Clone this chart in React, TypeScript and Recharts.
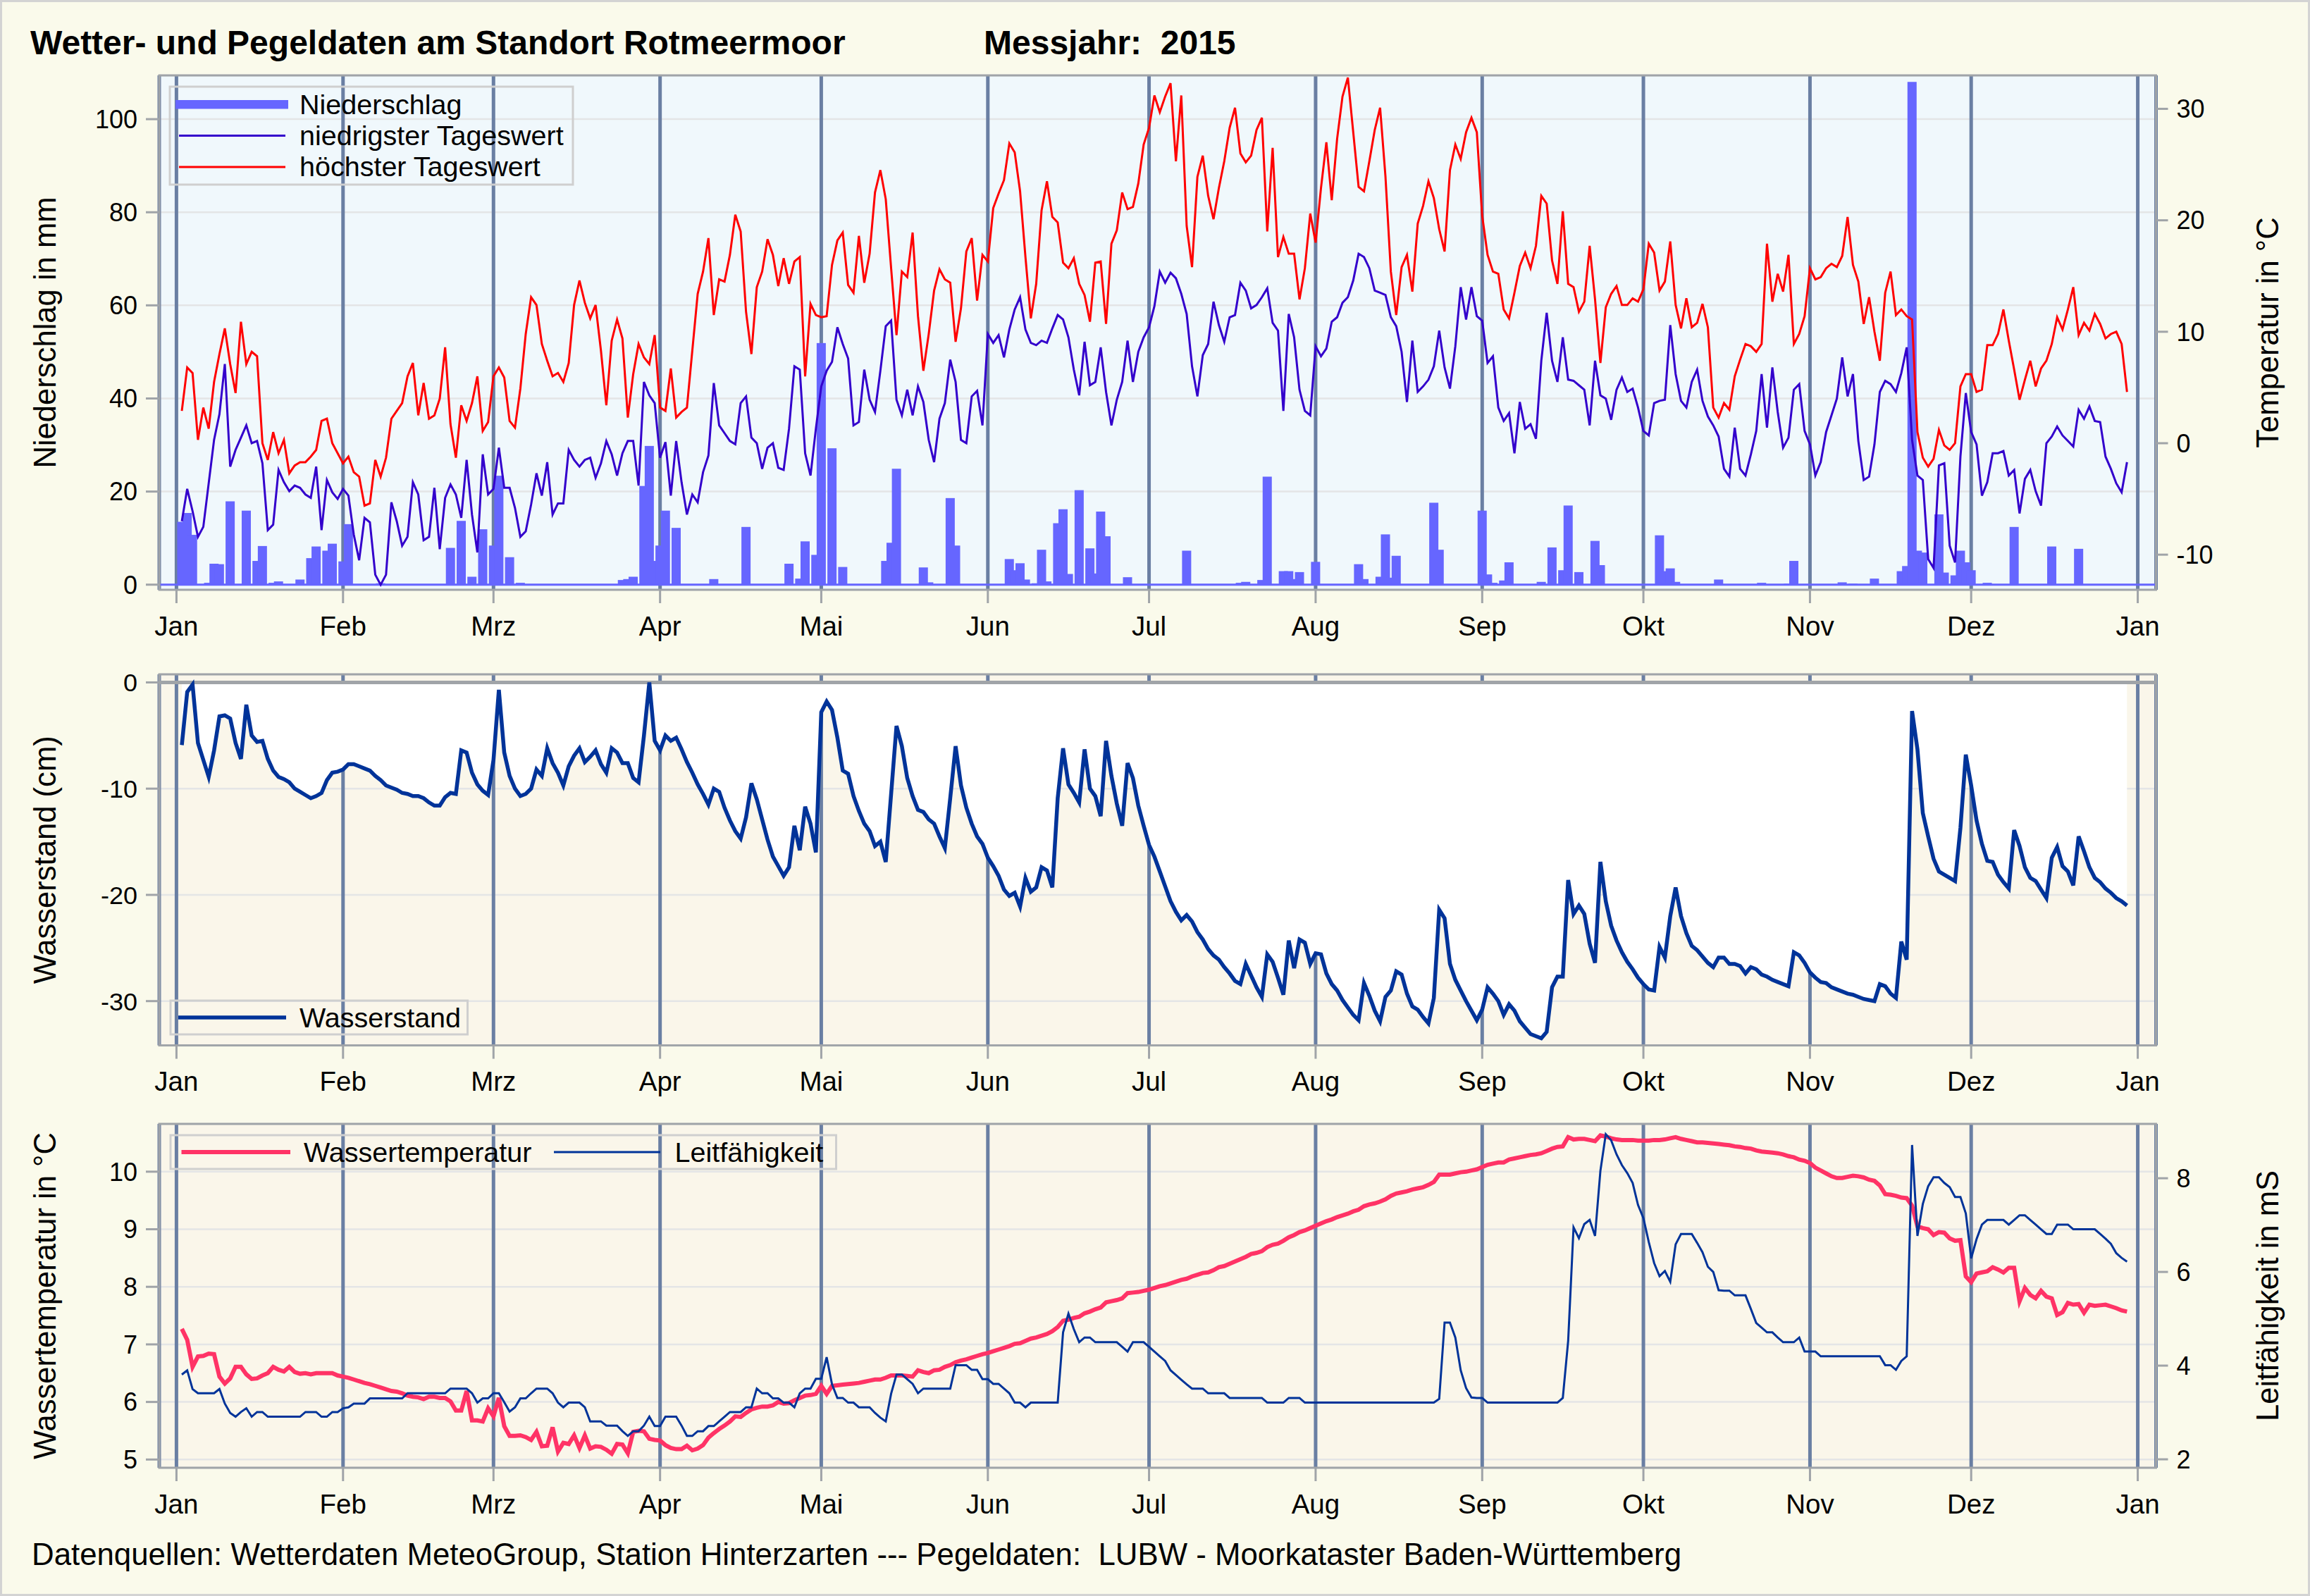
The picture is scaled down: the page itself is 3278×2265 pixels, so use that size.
import React from 'react';
import {
  ComposedChart,
  Line,
  Bar,
  Area,
  XAxis,
  YAxis,
  CartesianGrid,
  ReferenceLine,
} from 'recharts';

// ---------------------------------------------------------------------------
// Data (day 1 .. 363 of 2015)
// ---------------------------------------------------------------------------

const monthTicks = [0, 31, 59, 90, 120, 151, 181, 212, 243, 273, 304, 334, 365];
const monthLabels = ['Jan', 'Feb', 'Mrz', 'Apr', 'Mai', 'Jun', 'Jul', 'Aug', 'Sep', 'Okt', 'Nov', 'Dez', 'Jan'];

// höchster Tageswert (°C)
const tempMax = [
  2.9, 6.8, 6.3, 0.3, 3.2, 1.3, 5.5, 8.0, 10.3, 7.1,
  4.5, 10.9, 7.1, 8.2, 7.8, 0.0, -1.5, 1.0, -0.9, 0.3,
  -2.7, -2.0, -1.7, -1.7, -1.2, -0.6, 2.0, 2.2, 0.0, -0.9,
  -1.8, -1.2, -2.6, -3.0, -5.6, -5.4, -1.5, -3.0, -1.3, 2.2,
  2.9, 3.6, 6.0, 7.2, 2.5, 5.4, 2.2, 2.5, 4.0, 8.6,
  1.7, -1.3, 3.4, 2.0, 3.6, 6.0, 1.1, 1.9, 6.0, 6.8,
  5.9, 2.0, 1.4, 4.9, 9.8, 13.1, 12.4, 8.9, 7.4, 6.0,
  6.3, 5.5, 7.2, 12.4, 14.6, 12.6, 11.2, 12.4, 8.3, 3.4,
  9.2, 11.1, 9.4, 2.3, 6.2, 8.9, 7.7, 7.1, 9.7, 3.2,
  2.9, 6.7, 2.3, 2.8, 3.2, 8.3, 13.4, 15.4, 18.4, 11.5,
  14.7, 14.5, 16.9, 20.5, 19.0, 11.8, 8.0, 14.0, 15.4, 18.3,
  16.9, 14.1, 16.6, 14.3, 16.3, 16.7, 6.0, 12.5, 11.5, 11.3,
  11.4, 16.0, 18.2, 18.9, 14.2, 13.5, 18.6, 14.4, 17.0, 22.5,
  24.5, 21.9, 15.7, 9.7, 15.4, 14.9, 18.9, 11.4, 6.5, 9.8,
  13.7, 15.6, 14.7, 14.4, 9.1, 12.1, 17.2, 18.4, 12.8, 16.9,
  16.3, 21.1, 22.4, 23.6, 26.9, 26.1, 22.6, 16.7, 11.2, 14.3,
  20.9, 23.5, 20.3, 19.8, 16.2, 15.7, 16.6, 14.3, 13.3, 10.9,
  16.2, 16.3, 10.7, 17.9, 19.1, 22.5, 21.0, 21.2, 23.3, 26.8,
  28.3, 31.2, 29.7, 31.1, 32.3, 25.3, 31.2, 19.5, 15.8, 23.9,
  25.8, 22.2, 20.1, 22.9, 25.3, 28.3, 30.1, 26.0, 25.2, 25.8,
  28.1, 29.2, 19.0, 26.5, 16.7, 18.5, 17.0, 17.0, 12.9, 15.7,
  20.6, 18.0, 22.9, 27.0, 21.8, 27.3, 31.1, 32.8, 27.9, 23.0,
  22.6, 25.3, 28.1, 30.1, 23.9, 15.4, 11.5, 15.8, 16.9, 13.6,
  19.7, 21.3, 23.5, 22.0, 19.2, 17.2, 24.5, 26.8, 25.5, 27.9,
  29.2, 27.9, 20.4, 16.9, 15.4, 15.2, 12.0, 11.2, 13.5, 15.9,
  17.1, 15.7, 17.7, 22.2, 21.5, 16.4, 14.3, 20.8, 14.3, 14.0,
  11.8, 12.7, 17.7, 12.9, 7.2, 12.2, 13.4, 14.1, 12.4, 12.4,
  13.0, 12.7, 13.8, 17.9, 17.1, 13.7, 14.5, 18.1, 12.4, 10.3,
  13.0, 10.4, 10.8, 12.5, 10.4, 3.2, 2.3, 3.6, 3.0, 6.0,
  7.5, 8.9, 8.7, 8.2, 8.9, 17.9, 12.7, 15.2, 13.6, 16.9,
  8.9, 9.8, 11.4, 15.7, 14.7, 14.9, 15.7, 16.1, 15.8, 16.8,
  20.3, 16.0, 14.5, 10.7, 13.1, 10.0, 7.4, 13.5, 15.4, 11.5,
  12.0, 11.4, 11.1, 1.0, -1.3, -2.1, -1.4, 1.2, -0.2, -0.6,
  0.0, 5.1, 6.2, 6.2, 4.6, 4.8, 8.8, 8.8, 9.8, 12.0,
  9.2, 6.6, 3.9, 5.7, 7.4, 5.1, 6.7, 7.4, 8.9, 11.3,
  10.2, 12.0, 14.0, 9.7, 10.8, 10.1, 11.6, 10.7, 9.4, 9.8,
  10.0, 8.9, 4.6,
];

// niedrigster Tageswert (°C)
const tempMin = [
  -7.0, -4.1, -6.1, -8.4, -7.5, -3.6, 0.3, 2.6, 7.1, -2.1,
  -0.6, 0.5, 1.6, 0.0, 0.2, -1.8, -7.8, -7.3, -2.4, -3.5,
  -4.3, -3.8, -4.0, -4.6, -4.9, -2.1, -7.8, -3.3, -4.4, -5.0,
  -4.1, -4.7, -8.2, -10.5, -6.7, -7.1, -11.8, -12.7, -11.8, -5.3,
  -7.0, -9.2, -8.4, -3.5, -4.6, -8.7, -8.4, -4.0, -9.5, -4.9,
  -3.7, -4.6, -6.7, -1.5, -6.4, -9.8, -1.0, -4.6, -4.1, -0.4,
  -4.0, -4.0, -5.8, -8.4, -7.9, -5.5, -2.7, -4.7, -1.7, -6.4,
  -5.4, -5.4, -0.6, -1.5, -2.1, -1.5, -1.3, -3.1, -1.8, 0.2,
  -1.0, -2.9, -0.9, 0.2, 0.2, -3.8, 5.5, 4.3, 3.6, -1.3,
  0.1, -4.7, 0.2, -3.5, -6.4, -4.6, -5.3, -2.6, -1.1, 5.4,
  1.6, 0.9, 0.2, -0.1, 3.6, 4.2, 0.5, 0.0, -2.3, -0.4,
  0.0, -2.2, -2.4, 1.3, 6.9, 6.6, -0.9, -2.9, 1.3, 5.1,
  6.5, 7.3, 10.4, 8.9, 7.6, 1.6, 1.9, 6.6, 3.9, 2.8,
  6.5, 10.5, 11.0, 3.9, 2.5, 4.8, 2.5, 5.1, 3.7, 0.3,
  -1.7, 2.2, 3.6, 7.5, 5.5, 0.3, 0.0, 4.2, 4.7, 1.6,
  9.8, 9.0, 9.7, 7.7, 10.2, 12.0, 13.1, 10.2, 9.0, 8.8,
  9.2, 9.0, 10.3, 11.5, 11.1, 9.5, 6.6, 4.3, 9.1, 5.2,
  5.5, 8.6, 4.6, 1.6, 3.9, 5.5, 9.2, 5.5, 8.2, 9.5,
  10.4, 12.3, 15.4, 14.4, 15.3, 14.8, 13.4, 11.6, 6.9, 4.2,
  7.9, 8.9, 12.7, 10.6, 9.1, 11.3, 11.5, 14.4, 13.7, 12.1,
  12.4, 13.1, 13.9, 10.8, 10.1, 2.9, 11.6, 9.5, 4.8, 2.9,
  2.5, 8.7, 7.8, 8.5, 10.9, 11.3, 12.6, 13.1, 14.6, 17.0,
  16.7, 15.7, 13.7, 13.5, 13.3, 11.3, 10.5, 8.2, 3.7, 9.2,
  4.6, 5.1, 5.7, 6.9, 10.1, 6.8, 4.9, 8.7, 14.0, 11.1,
  14.0, 11.4, 11.0, 7.2, 7.8, 3.2, 2.0, 2.7, -0.9, 3.7,
  1.3, 1.7, 0.4, 7.4, 11.7, 7.4, 5.5, 9.5, 5.7, 5.6,
  5.2, 4.8, 1.6, 7.4, 4.3, 4.0, 2.1, 4.8, 5.9, 4.6,
  4.9, 3.2, 1.1, 0.7, 3.6, 3.8, 3.9, 10.6, 6.2, 3.8,
  3.2, 5.5, 6.6, 3.8, 2.4, 1.6, 0.6, -2.3, -3.0, 1.4,
  -2.3, -2.9, -1.0, 1.1, 6.2, 1.4, 6.8, 2.8, -0.4, 0.5,
  4.8, 5.3, 1.1, -0.1, -2.9, -1.7, 1.0, 2.5, 4.0, 7.7,
  4.2, 6.2, 0.2, -3.3, -3.0, -0.1, 4.6, 5.6, 5.3, 4.6,
  6.3, 8.6, 0.3, -2.9, -3.3, -10.4, -11.2, -2.0, -1.8, -9.2,
  -10.7, -1.2, 4.5, 1.0, -0.1, -4.7, -3.5, -0.9, -0.9, -0.7,
  -2.9, -2.4, -6.3, -3.2, -2.4, -4.3, -5.6, 0.0, 0.6, 1.5,
  0.7, 0.2, -0.3, 3.0, 2.2, 3.3, 2.0, 1.9, -1.2, -2.3,
  -3.6, -4.4, -1.7,
];

// Niederschlag: days with rain and the amount in mm
const rainDays = [
  1, 2, 3, 6, 7, 8, 10, 13, 15, 16, 18, 19, 23, 25, 26, 28, 29, 31, 32, 38,
  51, 53, 55, 57, 59, 60, 62, 64, 83, 84, 85, 87, 88, 89, 90, 91, 93, 100, 106, 114,
  116, 117, 119, 120, 122, 124, 132, 133, 134, 139, 140, 144, 145, 155, 156, 157, 158, 160, 161, 162,
  164, 165, 166, 168, 170, 171, 172, 173, 177, 188, 198, 199, 202, 203, 206, 207, 208, 209, 212, 220,
  221, 224, 225, 226, 227, 234, 235, 243, 244, 245, 247, 248, 254, 256, 258, 259, 261, 264, 265, 276,
  277, 278, 279, 287, 295, 300, 301, 310, 312, 316, 321, 322, 323, 324, 325, 328, 329, 331, 332, 333,
  334, 337, 342, 349, 354,
];
const rainMm = [
  13.5, 15.4, 10.7, 0.4, 4.5, 4.4, 17.9, 15.9, 5.1, 8.3, 0.4, 0.7, 1.1, 5.7, 8.2, 7.3, 8.8, 5.0, 13.0, 0.3,
  7.9, 13.7, 1.7, 11.9, 8.4, 23.4, 5.9, 0.4, 1.0, 1.2, 1.7, 21.2, 29.8, 5.1, 8.4, 15.9, 12.2, 1.2, 12.4, 4.5,
  1.3, 9.3, 6.4, 51.9, 29.3, 3.8, 5.1, 9.0, 24.9, 3.7, 0.5, 18.6, 8.4, 5.5, 3.1, 4.6, 1.1, 0.3, 7.5, 0.7,
  13.2, 16.2, 2.3, 20.3, 7.8, 2.4, 15.7, 10.4, 1.6, 7.3, 0.4, 0.6, 1.0, 23.2, 2.9, 2.9, 1.2, 2.7, 4.9, 4.4,
  1.2, 1.7, 10.8, 1.5, 6.2, 17.6, 7.5, 15.9, 2.2, 0.4, 0.9, 4.8, 0.6, 8.0, 3.1, 17.0, 2.7, 9.4, 4.2, 10.6,
  2.9, 3.5, 0.6, 1.1, 0.4, 0.2, 5.1, 0.5, 0.2, 1.3, 2.9, 4.0, 108.0, 7.3, 6.9, 15.1, 2.6, 2.0, 7.3, 4.8,
  3.1, 0.4, 12.4, 8.2, 7.7,
];

// Wasserstand (cm)
const waterLevel = [
  -5.9, -0.9, -0.2, -5.7, -7.3, -8.9, -6.4, -3.2, -3.1, -3.4,
  -5.7, -7.2, -2.1, -5.0, -5.6, -5.5, -7.2, -8.3, -8.9, -9.1,
  -9.4, -10.0, -10.3, -10.6, -10.9, -10.7, -10.4, -9.2, -8.5, -8.4,
  -8.2, -7.7, -7.7, -7.9, -8.1, -8.3, -8.8, -9.2, -9.7, -9.9,
  -10.1, -10.4, -10.5, -10.7, -10.7, -10.9, -11.3, -11.6, -11.6, -10.8,
  -10.4, -10.5, -6.4, -6.6, -8.5, -9.6, -10.2, -10.6, -7.3, -0.7,
  -6.6, -8.8, -10.0, -10.7, -10.5, -10.0, -8.2, -8.8, -6.2, -7.6,
  -8.5, -9.7, -7.9, -6.9, -6.2, -7.5, -7.0, -6.4, -7.7, -8.5,
  -6.2, -6.6, -7.6, -7.6, -9.0, -9.4, -5.0, 0.0, -5.5, -6.4,
  -5.0, -5.5, -5.2, -6.3, -7.5, -8.5, -9.6, -10.5, -11.5, -10.0,
  -10.3, -11.8, -13.0, -14.0, -14.7, -12.7, -9.5, -11.0, -12.9, -14.8,
  -16.4, -17.3, -18.2, -17.4, -13.5, -15.8, -11.7, -13.3, -16.0, -2.8,
  -1.8, -2.6, -5.2, -8.3, -8.6, -10.7, -12.1, -13.3, -14.0, -15.4,
  -15.0, -16.9, -10.5, -4.1, -6.0, -9.0, -10.7, -12.0, -12.2, -12.9,
  -13.3, -14.5, -15.6, -10.9, -6.0, -9.7, -11.8, -13.3, -14.5, -15.2,
  -16.5, -17.3, -18.2, -19.5, -20.1, -19.8, -21.1, -18.4, -19.7, -19.3,
  -17.4, -17.7, -19.3, -10.9, -6.2, -9.6, -10.4, -11.3, -6.3, -10.0,
  -10.7, -12.6, -5.5, -8.8, -11.4, -13.5, -7.6, -9.0, -11.6, -13.5,
  -15.3, -16.4, -17.8, -19.2, -20.6, -21.6, -22.4, -21.9, -22.5, -23.5,
  -24.2, -25.1, -25.7, -26.1, -26.8, -27.4, -28.1, -28.4, -26.5, -27.6,
  -28.7, -29.6, -25.6, -26.3, -27.8, -29.4, -24.3, -26.9, -24.2, -24.5,
  -26.5, -25.5, -25.6, -27.4, -28.4, -29.0, -29.9, -30.6, -31.3, -31.8,
  -28.3, -29.5, -30.9, -31.9, -29.6, -29.0, -27.2, -27.5, -29.3, -30.5,
  -30.8, -31.5, -32.1, -29.7, -21.4, -22.2, -26.5, -28.0, -29.0, -30.0,
  -30.9, -31.8, -30.8, -28.7, -29.3, -30.0, -31.3, -30.3, -30.9, -31.9,
  -32.5, -33.1, -33.3, -33.5, -32.9, -28.7, -27.7, -27.7, -18.6, -21.8,
  -21.0, -21.8, -24.6, -26.4, -16.9, -20.6, -22.9, -24.3, -25.4, -26.3,
  -27.0, -27.8, -28.4, -28.9, -29.0, -24.9, -25.9, -22.0, -19.3, -22.0,
  -23.6, -24.8, -25.2, -25.8, -26.4, -26.8, -25.9, -25.9, -26.5, -26.5,
  -26.7, -27.4, -26.8, -27.0, -27.5, -27.7, -28.0, -28.2, -28.4, -28.6,
  -25.4, -25.7, -26.4, -27.3, -27.8, -28.2, -28.3, -28.7, -28.9, -29.1,
  -29.3, -29.4, -29.6, -29.8, -29.9, -30.0, -28.4, -28.6, -29.3, -29.7,
  -24.4, -26.1, -2.7, -6.3, -12.3, -14.5, -16.6, -17.8, -18.1, -18.4,
  -18.7, -13.7, -6.8, -9.7, -13.0, -15.2, -16.8, -16.9, -18.1, -18.8,
  -19.4, -13.9, -15.4, -17.4, -18.4, -18.7, -19.5, -20.3, -16.5, -15.5,
  -17.3, -17.8, -19.1, -14.5, -15.9, -17.4, -18.4, -18.8, -19.4, -19.8,
  -20.3, -20.6, -21.0,
];

// Wassertemperatur (°C)
const waterTemp = [
  7.27, 7.08, 6.61, 6.79, 6.80, 6.84, 6.83, 6.44, 6.32, 6.41,
  6.61, 6.61, 6.48, 6.40, 6.41, 6.46, 6.50, 6.61, 6.56, 6.53,
  6.61, 6.52, 6.49, 6.50, 6.48, 6.50, 6.50, 6.50, 6.50, 6.46,
  6.44, 6.42, 6.39, 6.36, 6.33, 6.31, 6.28, 6.25, 6.22, 6.19,
  6.18, 6.15, 6.11, 6.09, 6.08, 6.05, 6.09, 6.09, 6.07, 6.07,
  6.01, 5.85, 5.85, 6.19, 5.68, 5.68, 5.66, 5.89, 5.75, 6.07,
  5.58, 5.41, 5.41, 5.42, 5.39, 5.34, 5.48, 5.23, 5.24, 5.56,
  5.14, 5.29, 5.27, 5.42, 5.20, 5.42, 5.19, 5.23, 5.22, 5.17,
  5.10, 5.27, 5.26, 5.11, 5.48, 5.50, 5.49, 5.36, 5.34, 5.33,
  5.25, 5.20, 5.18, 5.18, 5.24, 5.16, 5.19, 5.25, 5.38, 5.46,
  5.53, 5.59, 5.66, 5.75, 5.74, 5.81, 5.87, 5.90, 5.92, 5.92,
  5.94, 6.00, 5.97, 5.98, 6.03, 6.07, 6.11, 6.12, 6.14, 6.28,
  6.14, 6.28, 6.29, 6.30, 6.31, 6.32, 6.33, 6.35, 6.37, 6.39,
  6.39, 6.42, 6.46, 6.46, 6.46, 6.45, 6.44, 6.55, 6.52, 6.50,
  6.55, 6.56, 6.61, 6.64, 6.69, 6.72, 6.74, 6.77, 6.80, 6.83,
  6.85, 6.88, 6.91, 6.94, 6.97, 7.01, 7.02, 7.06, 7.10, 7.12,
  7.15, 7.18, 7.23, 7.30, 7.41, 7.43, 7.46, 7.48, 7.54, 7.57,
  7.61, 7.64, 7.73, 7.75, 7.77, 7.80, 7.89, 7.90, 7.91, 7.93,
  7.95, 7.98, 8.01, 8.03, 8.06, 8.09, 8.12, 8.14, 8.18, 8.21,
  8.24, 8.25, 8.29, 8.34, 8.36, 8.40, 8.44, 8.48, 8.52, 8.57,
  8.59, 8.62, 8.69, 8.73, 8.75, 8.80, 8.86, 8.90, 8.95, 8.98,
  9.02, 9.06, 9.10, 9.14, 9.17, 9.21, 9.24, 9.27, 9.31, 9.34,
  9.40, 9.43, 9.45, 9.48, 9.52, 9.58, 9.62, 9.64, 9.66, 9.69,
  9.71, 9.73, 9.77, 9.82, 9.95, 9.95, 9.95, 9.97, 9.99, 10.00,
  10.02, 10.04, 10.08, 10.12, 10.14, 10.16, 10.16, 10.21, 10.23, 10.25,
  10.27, 10.29, 10.30, 10.32, 10.36, 10.40, 10.43, 10.44, 10.60, 10.56,
  10.57, 10.57, 10.55, 10.53, 10.63, 10.61, 10.58, 10.56, 10.55, 10.55,
  10.55, 10.54, 10.54, 10.54, 10.55, 10.55, 10.56, 10.58, 10.60, 10.57,
  10.55, 10.53, 10.51, 10.51, 10.50, 10.49, 10.48, 10.47, 10.46, 10.44,
  10.43, 10.41, 10.40, 10.37, 10.35, 10.34, 10.33, 10.32, 10.30, 10.27,
  10.25, 10.21, 10.19, 10.15, 10.07, 10.02, 9.97, 9.92, 9.89, 9.89,
  9.91, 9.93, 9.92, 9.90, 9.86, 9.84, 9.76, 9.61, 9.60, 9.58,
  9.55, 9.54, 9.41, 9.05, 9.02, 9.00, 8.90, 8.95, 8.94, 8.84,
  8.80, 8.81, 8.18, 8.08, 8.23, 8.25, 8.27, 8.34, 8.30, 8.25,
  8.33, 8.33, 7.75, 7.98, 7.86, 7.80, 7.93, 7.83, 7.80, 7.51,
  7.56, 7.72, 7.69, 7.70, 7.55, 7.69, 7.67, 7.68, 7.69, 7.66,
  7.63, 7.59, 7.57,
];

// Leitfähigkeit (mS)
const conductivity = [
  3.81, 3.90, 3.50, 3.41, 3.41, 3.41, 3.41, 3.50, 3.19, 2.99,
  2.91, 3.01, 3.09, 2.91, 3.01, 3.01, 2.91, 2.91, 2.91, 2.91,
  2.91, 2.91, 2.91, 3.01, 3.01, 3.01, 2.91, 2.91, 3.01, 3.01,
  3.09, 3.11, 3.19, 3.19, 3.19, 3.30, 3.30, 3.30, 3.30, 3.30,
  3.30, 3.30, 3.41, 3.41, 3.41, 3.41, 3.41, 3.41, 3.41, 3.41,
  3.51, 3.51, 3.51, 3.51, 3.41, 3.21, 3.30, 3.30, 3.41, 3.41,
  3.22, 3.02, 3.11, 3.30, 3.30, 3.41, 3.51, 3.51, 3.51, 3.41,
  3.21, 3.11, 3.21, 3.21, 3.21, 3.11, 2.81, 2.81, 2.81, 2.72,
  2.72, 2.72, 2.60, 2.50, 2.60, 2.60, 2.72, 2.91, 2.71, 2.71,
  2.91, 2.91, 2.91, 2.72, 2.50, 2.50, 2.60, 2.60, 2.71, 2.71,
  2.81, 2.91, 3.01, 3.01, 3.01, 3.11, 3.11, 3.51, 3.41, 3.41,
  3.30, 3.30, 3.21, 3.21, 3.11, 3.41, 3.51, 3.51, 3.72, 3.72,
  4.18, 3.60, 3.31, 3.31, 3.21, 3.21, 3.11, 3.11, 3.11, 2.99,
  2.89, 2.81, 3.40, 3.81, 3.81, 3.71, 3.61, 3.41, 3.51, 3.51,
  3.51, 3.51, 3.51, 3.51, 4.01, 4.01, 4.01, 3.91, 3.91, 3.71,
  3.71, 3.61, 3.61, 3.51, 3.41, 3.21, 3.21, 3.11, 3.21, 3.21,
  3.21, 3.21, 3.21, 3.21, 4.71, 5.11, 4.78, 4.50, 4.60, 4.60,
  4.50, 4.50, 4.50, 4.50, 4.50, 4.40, 4.30, 4.50, 4.50, 4.50,
  4.40, 4.30, 4.20, 4.10, 3.90, 3.80, 3.70, 3.60, 3.51, 3.51,
  3.51, 3.41, 3.41, 3.41, 3.41, 3.31, 3.31, 3.31, 3.31, 3.31,
  3.31, 3.31, 3.21, 3.21, 3.21, 3.21, 3.31, 3.31, 3.31, 3.21,
  3.21, 3.21, 3.21, 3.21, 3.21, 3.21, 3.21, 3.21, 3.21, 3.21,
  3.21, 3.21, 3.21, 3.21, 3.21, 3.21, 3.21, 3.21, 3.21, 3.21,
  3.21, 3.21, 3.21, 3.21, 3.29, 4.92, 4.92, 4.60, 3.90, 3.52,
  3.32, 3.31, 3.31, 3.21, 3.21, 3.21, 3.21, 3.21, 3.21, 3.21,
  3.21, 3.21, 3.21, 3.21, 3.21, 3.21, 3.21, 3.31, 4.53, 6.95,
  6.72, 7.02, 7.11, 6.77, 8.16, 8.94, 8.81, 8.51, 8.28, 8.11,
  7.90, 7.43, 7.15, 6.64, 6.19, 5.91, 6.02, 5.79, 6.59, 6.81,
  6.81, 6.81, 6.62, 6.42, 6.11, 6.00, 5.61, 5.60, 5.60, 5.50,
  5.50, 5.50, 5.21, 4.91, 4.81, 4.71, 4.71, 4.60, 4.50, 4.50,
  4.50, 4.60, 4.30, 4.30, 4.30, 4.20, 4.20, 4.20, 4.20, 4.20,
  4.20, 4.20, 4.20, 4.20, 4.20, 4.20, 4.20, 4.01, 4.01, 3.91,
  4.10, 4.20, 8.71, 6.77, 7.45, 7.83, 8.02, 8.02, 7.90, 7.81,
  7.60, 7.60, 7.25, 6.29, 6.70, 7.01, 7.11, 7.11, 7.11, 7.11,
  7.01, 7.11, 7.21, 7.21, 7.11, 7.01, 6.91, 6.81, 6.81, 7.01,
  7.01, 7.01, 6.91, 6.91, 6.91, 6.91, 6.91, 6.81, 6.71, 6.60,
  6.40, 6.30, 6.22,
];

const rainByDay = new Map(rainDays.map((d, i) => [d, rainMm[i]]));

const rows = tempMax.map((_, i) => ({
  day: i + 1,
  rain: rainByDay.has(i + 1) ? rainByDay.get(i + 1) : null,
  tmax: tempMax[i],
  tmin: tempMin[i],
  level: waterLevel[i],
  wtemp: waterTemp[i],
  cond: conductivity[i],
}));

// ---------------------------------------------------------------------------
// Layout / style
// ---------------------------------------------------------------------------

const W = 3278;
const H = 2265;
const FONT = '"Liberation Sans", Arial, Helvetica, sans-serif';
const PAGE_BG = '#fafaeb';
const FRAME = '#a0a4a8';
const GRID = '#e4e5e6';
const MONTH = '#6a7fa3';
const BEIGE = '#faf6ea';
const AXIS_L = 226;
const AXIS_R = 218.5;
const X_DOMAIN: [number, number] = [-3.2, 368.4];

const TOP = { top: 107, bottom: 837 };
const MID = { top: 957, bottom: 1483.6 };
const BOT = { top: 1595, bottom: 2083 };

const tickText = { fontSize: 36, fill: '#000', fontFamily: FONT };
const monthText = { fontSize: 38.5, fill: '#000', fontFamily: FONT };
const tickMark = { stroke: FRAME, strokeWidth: 3 };
const LEGEND_SIZE = 39.5;

const monthName = (v: number) => {
  const i = monthTicks.indexOf(v);
  return i >= 0 ? monthLabels[i] : '';
};

const xAxis = (
  <XAxis
    dataKey="day"
    type="number"
    domain={X_DOMAIN}
    ticks={monthTicks}
    interval={0}
    allowDataOverflow
    tickFormatter={monthName}
    tick={monthText}
    tickLine={tickMark}
    tickSize={19}
    tickMargin={18.5}
    axisLine={false}
    height={90}
  />
);

// bars are wider than one day in the original, so widen around the centre
const RainBar = (props: any) => {
  const { x, y, width, height } = props;
  if (height == null || height <= 0 || x == null) return null;
  const cx = x + width / 2;
  return <rect x={cx - 6.5} y={y} width={13} height={height} fill="#6666ff" />;
};

const Frame = ({ top, bottom }: { top: number; bottom: number }) => (
  <rect x={AXIS_L} y={top} width={W - AXIS_R - AXIS_L} height={bottom - top} fill="none" stroke={FRAME} strokeWidth={3} />
);

const AxisTitle = ({ x, y, text }: { x: number; y: number; text: string }) => (
  <text
    transform={`translate(${x}, ${y}) rotate(-90)`}
    textAnchor="middle"
    dominantBaseline="central"
    fontSize={43.6}
    fontFamily={FONT}
    fill="#000"
  >
    {text}
  </text>
);

// ---------------------------------------------------------------------------
// Component
// ---------------------------------------------------------------------------

const App: React.FC = () => {
  return (
    <div style={{ position: 'relative', width: W, height: H, background: PAGE_BG, overflow: 'hidden', fontFamily: FONT }}>
      <style>{'body{margin:0}'}</style>

      {/* Niederschlag + Lufttemperatur */}
      <div style={{ position: 'absolute', left: 0, top: 0 }}>
        <ComposedChart width={W} height={TOP.bottom + 90} data={rows} margin={{ top: TOP.top, right: 0, bottom: 0, left: 0 }}>
          <CartesianGrid yAxisId="mm" vertical={false} stroke={GRID} strokeWidth={2.5} fill="#f0f8fc" />
          <CartesianGrid yAxisId="mm" horizontal={false} stroke={MONTH} strokeWidth={5} />
          {xAxis}
          <YAxis
            yAxisId="mm"
            domain={[-1.1, 109.4]}
            ticks={[0, 20, 40, 60, 80, 100]}
            interval={0}
            allowDataOverflow
            width={AXIS_L}
            tick={tickText}
            tickLine={tickMark}
            tickSize={19}
            tickMargin={12}
            axisLine={false}
          />
          <YAxis
            yAxisId="t"
            orientation="right"
            domain={[-13.15, 33]}
            ticks={[-10, 0, 10, 20, 30]}
            interval={0}
            allowDataOverflow
            width={AXIS_R}
            tick={tickText}
            tickLine={tickMark}
            tickSize={17}
            tickMargin={12}
            axisLine={false}
          />
          <Bar yAxisId="mm" dataKey="rain" fill="#6666ff" shape={RainBar} isAnimationActive={false} />
          <ReferenceLine yAxisId="mm" y={0} stroke="#6666ff" strokeWidth={3} />
          <Line yAxisId="t" dataKey="tmin" stroke="#3300cc" strokeWidth={3} dot={false} activeDot={false} isAnimationActive={false} />
          <Line yAxisId="t" dataKey="tmax" stroke="#ff0000" strokeWidth={3} dot={false} activeDot={false} isAnimationActive={false} />
        </ComposedChart>
      </div>

      {/* Wasserstand */}
      <div style={{ position: 'absolute', left: 0, top: 0 }}>
        <ComposedChart width={W} height={MID.bottom + 90} data={rows} margin={{ top: MID.top, right: AXIS_R, bottom: 0, left: 0 }}>
          <CartesianGrid vertical={false} stroke={GRID} strokeWidth={2.5} fill={BEIGE} />
          <CartesianGrid horizontal={false} stroke={MONTH} strokeWidth={5} />
          {xAxis}
          <YAxis
            domain={[-34.17, 0.76]}
            ticks={[-30, -20, -10, 0]}
            interval={0}
            allowDataOverflow
            width={AXIS_L}
            tick={tickText}
            tickLine={tickMark}
            tickSize={19}
            tickMargin={12}
            axisLine={false}
          />
          <Area dataKey="level" baseValue={0} stroke="none" fill="#ffffff" fillOpacity={1} isAnimationActive={false} activeDot={false} />
          <ReferenceLine y={0} stroke={FRAME} strokeWidth={5} />
          <Line dataKey="level" stroke="#003399" strokeWidth={5.5} dot={false} activeDot={false} isAnimationActive={false} />
        </ComposedChart>
      </div>

      {/* Wassertemperatur + Leitfähigkeit */}
      <div style={{ position: 'absolute', left: 0, top: 0 }}>
        <ComposedChart width={W} height={BOT.bottom + 90} data={rows} margin={{ top: BOT.top, right: 0, bottom: 0, left: 0 }}>
          <CartesianGrid yAxisId="wt" vertical={false} stroke={GRID} strokeWidth={2.5} fill={BEIGE} />
          <CartesianGrid yAxisId="wt" horizontal={false} stroke={MONTH} strokeWidth={5} />
          {xAxis}
          <YAxis
            yAxisId="wt"
            domain={[4.857, 10.83]}
            ticks={[5, 6, 7, 8, 9, 10]}
            interval={0}
            allowDataOverflow
            width={AXIS_L}
            tick={tickText}
            tickLine={tickMark}
            tickSize={19}
            tickMargin={12}
            axisLine={false}
          />
          <YAxis
            yAxisId="lf"
            orientation="right"
            domain={[1.82, 9.16]}
            ticks={[2, 4, 6, 8]}
            interval={0}
            allowDataOverflow
            width={AXIS_R}
            tick={tickText}
            tickLine={tickMark}
            tickSize={17}
            tickMargin={12}
            axisLine={false}
          />
          <Line yAxisId="wt" dataKey="wtemp" stroke="#ff3366" strokeWidth={6} dot={false} activeDot={false} isAnimationActive={false} />
          <Line yAxisId="lf" dataKey="cond" stroke="#003399" strokeWidth={3} dot={false} activeDot={false} isAnimationActive={false} />
        </ComposedChart>
      </div>

      {/* frames, titles, legends */}
      <svg width={W} height={H} style={{ position: 'absolute', left: 0, top: 0, pointerEvents: 'none' }}>
        <rect x={1.5} y={1.5} width={W - 3} height={H - 3} fill="none" stroke="#d3d3d3" strokeWidth={3} />
        <Frame top={TOP.top} bottom={TOP.bottom} />
        <Frame top={MID.top} bottom={MID.bottom} />
        <Frame top={BOT.top} bottom={BOT.bottom} />

        <text x={43} y={77} fontSize={48} fontWeight="bold" fontFamily={FONT} fill="#000">
          Wetter- und Pegeldaten am Standort Rotmeermoor
        </text>
        <text x={1396} y={77} fontSize={48} fontWeight="bold" fontFamily={FONT} fill="#000" style={{ whiteSpace: 'pre' }}>
          {'Messjahr:  2015'}
        </text>

        <AxisTitle x={64} y={(TOP.top + TOP.bottom) / 2} text="Niederschlag in mm" />
        <AxisTitle x={3218} y={(TOP.top + TOP.bottom) / 2} text="Temperatur in °C" />
        <AxisTitle x={64} y={(MID.top + MID.bottom) / 2} text="Wasserstand (cm)" />
        <AxisTitle x={64} y={(BOT.top + BOT.bottom) / 2} text="Wassertemperatur in °C" />
        <AxisTitle x={3218} y={(BOT.top + BOT.bottom) / 2} text="Leitfähigkeit in mS" />

        {/* top legend */}
        <rect x={241} y={123} width={572} height={139} fill="none" stroke="#cfcfcf" strokeWidth={3} />
        <rect x={249} y={142} width={160} height={12.5} fill="#6666ff" />
        <line x1={254} x2={405} y1={192.5} y2={192.5} stroke="#3300cc" strokeWidth={3} />
        <line x1={254} x2={405} y1={237} y2={237} stroke="#ff0000" strokeWidth={3} />
        <g fontSize={LEGEND_SIZE} fontFamily={FONT} fill="#000">
          <text x={425} y={162}>Niederschlag</text>
          <text x={425} y={206}>niedrigster Tageswert</text>
          <text x={425} y={250}>höchster Tageswert</text>
        </g>

        {/* middle legend */}
        <rect x={242} y={1420} width={421.5} height={48} fill="none" stroke="#cfcfcf" strokeWidth={3} />
        <line x1={253} x2={406} y1={1444} y2={1444} stroke="#003399" strokeWidth={5.5} />
        <text x={425} y={1458} fontSize={LEGEND_SIZE} fontFamily={FONT} fill="#000">Wasserstand</text>

        {/* bottom legend */}
        <rect x={242} y={1611} width={944.5} height={48} fill="none" stroke="#cfcfcf" strokeWidth={3} />
        <line x1={257.5} x2={412} y1={1635} y2={1635} stroke="#ff3366" strokeWidth={6} />
        <line x1={786} x2={937} y1={1635} y2={1635} stroke="#003399" strokeWidth={3} />
        <g fontSize={LEGEND_SIZE} fontFamily={FONT} fill="#000">
          <text x={431} y={1649}>Wassertemperatur</text>
          <text x={957.5} y={1649}>Leitfähigkeit</text>
        </g>

        <text x={45} y={2221} fontSize={43.8} fontFamily={FONT} fill="#000" style={{ whiteSpace: 'pre' }}>
          {'Datenquellen: Wetterdaten MeteoGroup, Station Hinterzarten --- Pegeldaten:  LUBW - Moorkataster Baden-Württemberg'}
        </text>
      </svg>
    </div>
  );
};

export default App;
